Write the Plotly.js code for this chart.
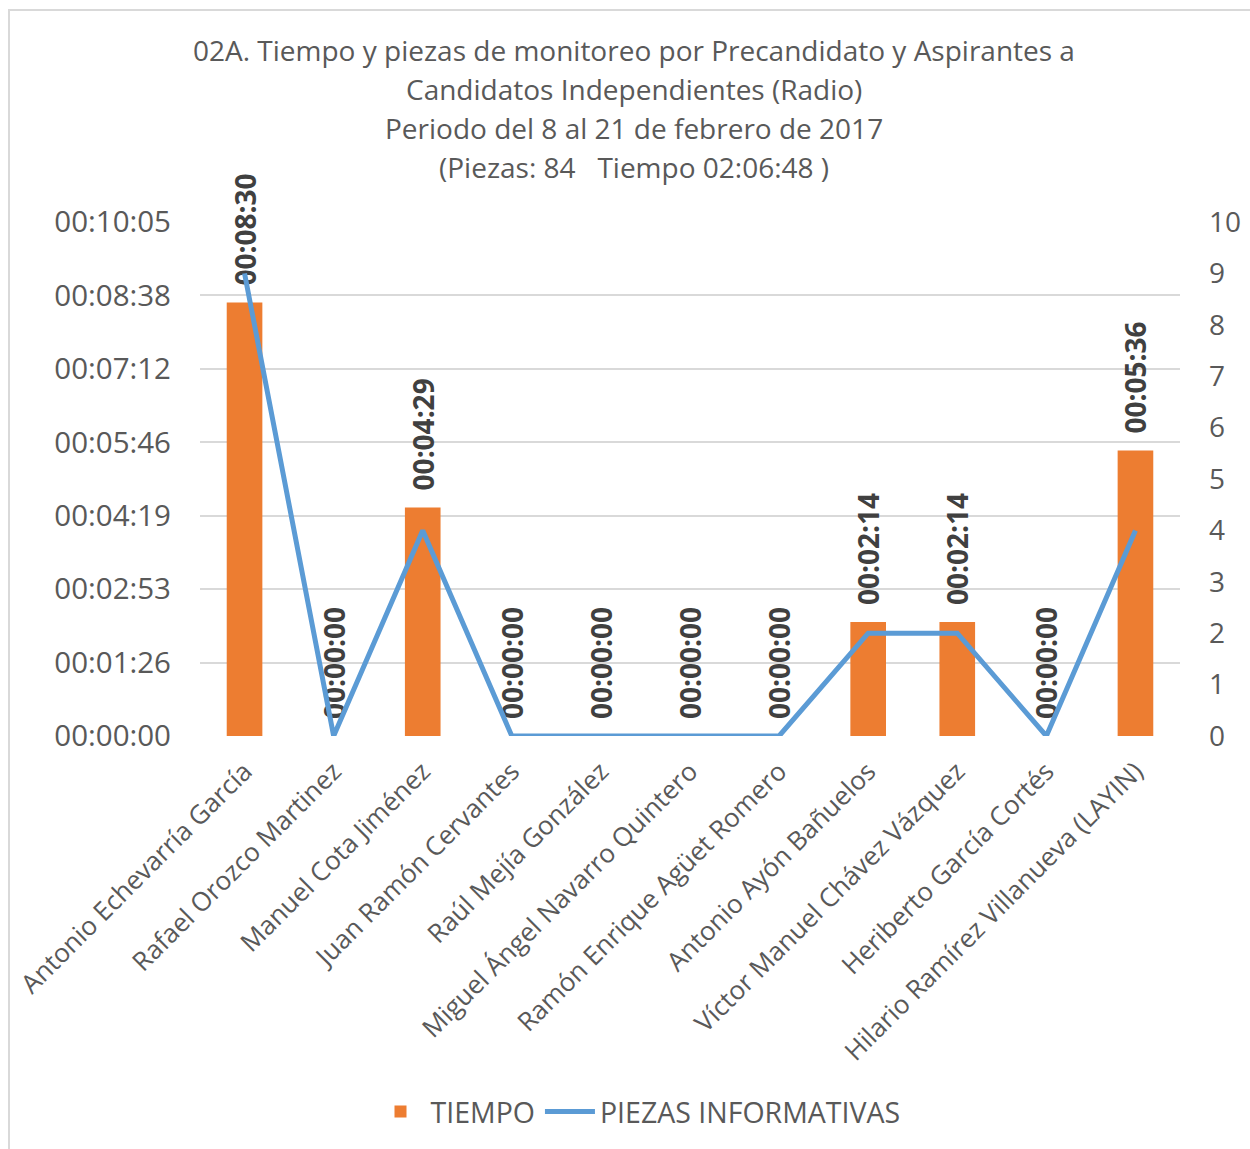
<!DOCTYPE html>
<html>
<head>
<meta charset="utf-8">
<script src="https://cdn.plot.ly/plotly-3.0.1.min.js"></script>
<style>
html,body{margin:0;padding:0;background:#fff;overflow:hidden;}
#frame{position:absolute;left:8px;top:9px;width:1260px;height:1160px;border-left:2px solid #d9d9d9;border-top:2px solid #d9d9d9;}
#chart{position:absolute;left:0;top:0;width:1250px;height:1149px;}
</style>
</head>
<body>
<div id="frame"></div>
<div id="chart"></div>
<script>
const categories = [
  "Antonio Echevarría García",
  "Rafael Orozco Martinez",
  "Manuel Cota Jiménez",
  "Juan Ramón Cervantes",
  "Raúl Mejía González",
  "Miguel Ángel Navarro Quintero",
  "Ramón Enrique Agüet Romero",
  "Antonio Ayón Bañuelos",
  "Víctor Manuel Chávez Vázquez",
  "Heriberto García Cortés",
  "Hilario Ramírez Villanueva (LAYIN)"
];
const tiempoLabels = ["00:08:30","00:00:00","00:04:29","00:00:00","00:00:00","00:00:00","00:00:00","00:02:14","00:02:14","00:00:00","00:05:36"];
const piezas = [9,0,4,0,0,0,0,2,2,0,4];
const leftTickVals = [0,86.4,172.8,259.2,345.6,432,518.4,604.8];
const leftTickText = ["00:00:00","00:01:26","00:02:53","00:04:19","00:05:46","00:07:12","00:08:38","00:10:05"];
const titleLines = [
  "02A. Tiempo y piezas de monitoreo por Precandidato y Aspirantes a",
  "Candidatos Independientes (Radio)",
  "Periodo del 8 al 21 de febrero de 2017",
  "(Piezas: 84   Tiempo 02:06:48 )"
];

function toSeconds(s){const p=s.split(":").map(Number);return p[0]*3600+p[1]*60+p[2];}
const tiempoSec = tiempoLabels.map(toSeconds);

const traces = [
  {
    type:'bar', name:'TIEMPO', x:categories, y:tiempoSec,
    marker:{color:'#ED7D31'}, width:0.4,
    text:tiempoLabels.map(t => '\u2002' + t), textposition:'outside', textangle:-90,
    textfont:{family:'Open Sans, sans-serif', size:28, color:'#404040', weight:'bold'},
    constraintext:'none', cliponaxis:false, hoverinfo:'none'
  },
  {
    type:'scatter', mode:'lines', name:'PIEZAS INFORMATIVAS', x:categories, y:piezas,
    yaxis:'y2', line:{color:'#5B9BD5', width:5}, cliponaxis:false, hoverinfo:'none'
  }
];

const titleY = [50, 89, 128, 167];
const annotations = titleLines.map((t, i) => ({
  text:t, xref:'paper', yref:'paper', x:(634-200)/980, xanchor:'center',
  y:(736 - titleY[i]) / 514, yanchor:'middle', showarrow:false,
  font:{family:'Open Sans, sans-serif', size:28, color:'#595959'}
}));

const layout = {
  width:1250, height:1149,
  paper_bgcolor:'rgba(0,0,0,0)', plot_bgcolor:'rgba(0,0,0,0)',
  margin:{l:200, r:70, t:222, b:413},
  annotations:annotations,
  showlegend:true,
  legend:{orientation:'h', x:(638-200)/980, xanchor:'center', y:(736-1112)/514, yanchor:'middle',
    font:{family:'Open Sans, sans-serif', size:28.5, color:'#595959'}, itemwidth:50},
  xaxis:{
    type:'category', tickangle:-45, showgrid:false, zeroline:false, showline:false,
    tickfont:{family:'Open Sans, sans-serif', size:26, color:'#595959'}, ticks:'',
    ticklabelstandoff:14
  },
  yaxis:{
    range:[0,604.8], tickvals:leftTickVals, ticktext:leftTickText,
    showgrid:true, gridcolor:'#D9D9D9', gridwidth:2, zeroline:false, showline:false,
    tickfont:{family:'Open Sans, sans-serif', size:29.5, color:'#595959'},
    ticklabelstandoff:28
  },
  yaxis2:{
    overlaying:'y', side:'right', range:[0,10], dtick:1, showgrid:false, zeroline:false, showline:false,
    tickfont:{family:'Open Sans, sans-serif', size:28, color:'#595959'},
    ticklabelstandoff:28
  },
  bargap:0.6
};

Plotly.newPlot('chart', traces, layout, {staticPlot:true, displayModeBar:false});
</script>
</body>
</html>
